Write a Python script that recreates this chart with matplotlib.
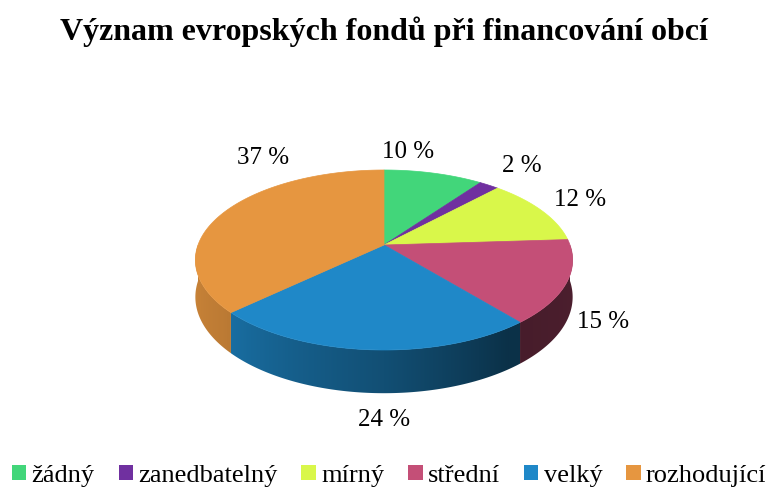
import matplotlib
matplotlib.use("Agg")
import matplotlib.pyplot as plt
from matplotlib.patches import Polygon, Patch
import numpy as np

plt.rcParams['font.family'] = ['Liberation Serif', 'DejaVu Serif']

# data
categories = ['žádný', 'zanedbatelný', 'mírný', 'střední', 'velký', 'rozhodující']
values = [10, 2, 12, 15, 24, 37]
colors = ['#42d67a', '#7030a0', '#d9f74a', '#c44f77', '#1f88c8', '#e69640']
title = 'Význam evropských fondů při financování obcí'

# label offsets from the rim point (pixels, screen)
label_offsets = [(-26, -21), (33, -19), (39, -10), (36, 40), (14, 70), (39, -54)]

# 3d pie geometry (pixel space)
CX, CY = 384, 245
A, B, K = 186, 87.5, 1 / 6
D0 = 36


def proj(theta, r=1.0):
    t = np.radians(theta)
    u, v = r * np.sin(t), r * np.cos(t)
    d = 1 + K * v
    return CX + A * u / d, CY - B * v / d, d


def side_factor(theta):
    return np.interp(theta, [90, 145, 180, 230, 270], [0.40, 0.36, 0.58, 0.82, 0.90])


fig = plt.figure(figsize=(7.69, 4.88), dpi=100)
ax = fig.add_axes([0, 0, 1, 1])
ax.axis('off')

total = sum(values)
bounds = np.concatenate([[0], np.cumsum(values)]) / total * 360

# x -> angle map on the visible front side (x decreasing with angle)
t_lim = np.degrees(np.arccos(-K))
t_map = np.linspace(t_lim, 360 - t_lim, 600)
x_map = proj(t_map)[0]

# side walls (front half only), shaded with a horizontal gradient
for i, c in enumerate(colors):
    a0, a1 = max(bounds[i], 90), min(bounds[i + 1], 270)
    if a1 <= a0:
        continue
    ts = np.linspace(a0, a1, 200)
    xt, yt, d = proj(ts)
    yb = yt + D0 / d
    pts = np.column_stack([np.r_[xt, xt[::-1]], np.r_[yt, yb[::-1]]])
    clip = Polygon(pts, closed=True, fc='none', ec='none')
    ax.add_patch(clip)
    xs = np.linspace(xt.min() - 1, xt.max() + 1, 300)
    th = np.interp(xs, x_map[::-1], t_map[::-1])
    rgb = np.array(matplotlib.colors.to_rgb(c))
    grad = (rgb[None, :] * side_factor(th)[:, None])[None, :, :]
    im = ax.imshow(grad, extent=(xs[0], xs[-1], yb.max() + 1, yt.min() - 1),
                   aspect='auto', interpolation='bilinear', zorder=1)
    im.set_clip_path(clip)

# top face
for i, c in enumerate(colors):
    ts = np.linspace(bounds[i], bounds[i + 1], 100)
    pts = [(CX, CY)] + [proj(t)[:2] for t in ts]
    ax.add_patch(Polygon(pts, closed=True, fc=c, ec=c, lw=0.5, zorder=2))

# labels
for i, v in enumerate(values):
    mid = (bounds[i] + bounds[i + 1]) / 2
    x, y, _ = proj(mid)
    dx, dy = label_offsets[i]
    ax.annotate(f'{v} %', xy=(x, y), xytext=(dx, -dy), textcoords='offset pixels',
                ha='center', va='center', fontsize=18, zorder=3)

ax.set_xlim(0, 769)
ax.set_ylim(488, 0)

ax.text(384, 32, title, ha='center', va='center', fontsize=23, fontweight='bold')

handles = [Patch(facecolor=c, edgecolor='none') for c in colors]
ax.legend(handles, categories, loc='lower center', bbox_to_anchor=(0.506, -0.03), ncol=6,
          frameon=False, fontsize=19, handlelength=0.55, handleheight=0.55,
          handletextpad=0.2, columnspacing=0.9, borderaxespad=0.2)

fig.savefig('out.png', dpi=100)
